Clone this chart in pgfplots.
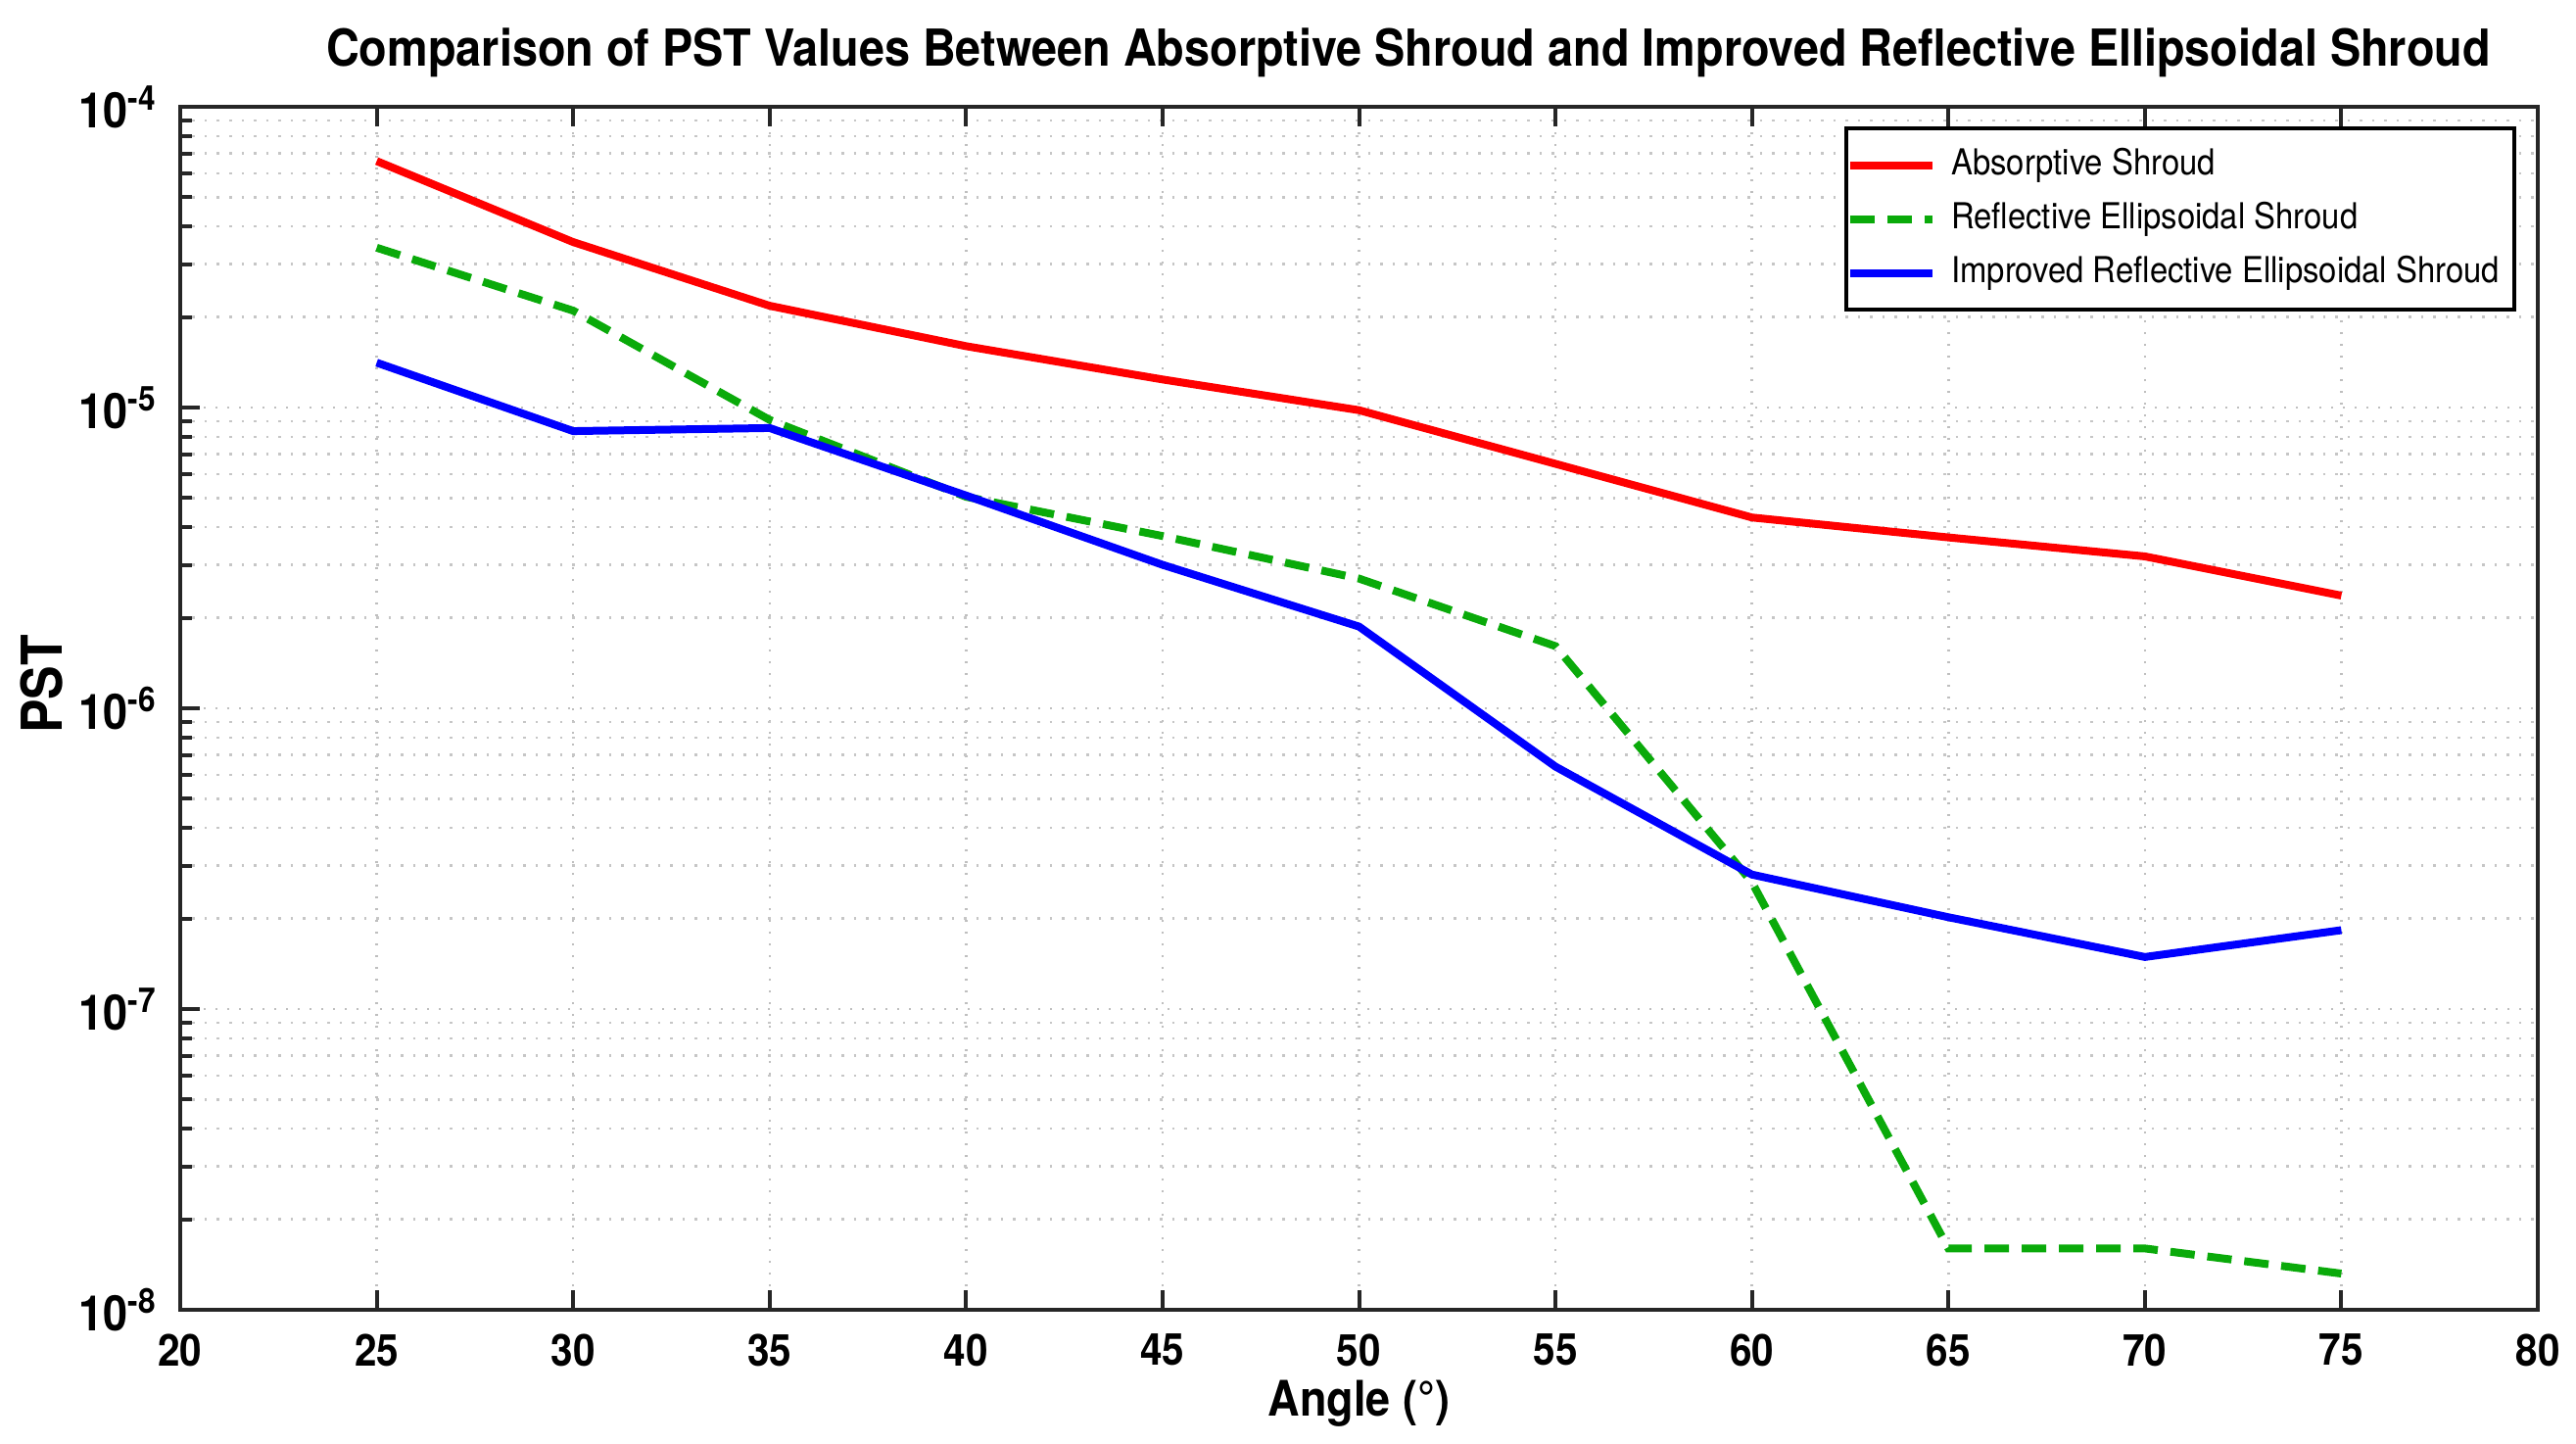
\documentclass[border=0pt]{standalone}
\usepackage{fontspec}
\setmainfont{TeX Gyre Heros}[FakeStretch=0.9]
\usepackage{pgfplots}
\pgfplotsset{compat=1.18}
\definecolor{cred}{RGB}{255,0,0}
\definecolor{cgreen}{RGB}{10,170,10}
\definecolor{cblue}{RGB}{0,0,255}
\newcommand{\pw}[1]{\textbf{10}\textsuperscript{\textbf{#1}}}
\begin{document}
\begin{tikzpicture}
\begin{axis}[
  scale only axis, width=481.4pt, height=245.6pt,
  ymode=log, xmin=20, xmax=80, ymin=1e-8, ymax=1e-4,
  xtick={20,25,...,80},
  ytick={1e-8,1e-7,1e-6,1e-5,1e-4},
  yticklabels={\pw{-8},\pw{-7},\pw{-6},\pw{-5},\pw{-4}},
  minor ytick={2e-8,3e-8,4e-8,5e-8,6e-8,7e-8,8e-8,9e-8,
               2e-7,3e-7,4e-7,5e-7,6e-7,7e-7,8e-7,9e-7,
               2e-6,3e-6,4e-6,5e-6,6e-6,7e-6,8e-6,9e-6,
               2e-5,3e-5,4e-5,5e-5,6e-5,7e-5,8e-5,9e-5},
  xtick pos=both, ytick pos=left,
  tick align=inside,
  major tick length=4pt, minor tick length=2.4pt,
  xmajorgrids, ymajorgrids, yminorgrids,
  grid style={dotted, gray!50, line width=0.5pt},
  minor grid style={dotted, gray!45, line width=0.5pt},
  axis line style={line width=0.8pt, black!85},
  every tick/.style={black!85, line width=0.8pt},
  /pgf/number format/assume math mode=true,
  xticklabel style={font=\bfseries\fontsize{9}{10}\selectfont, yshift=-1.4pt},
  yticklabel style={font=\fontsize{10}{11}\selectfont, xshift=-1pt},
  title={Comparison of PST Values Between Absorptive Shroud and Improved Reflective Ellipsoidal Shroud},
  title style={at={(0.521,1)}, anchor=base, yshift=2.4pt, inner sep=0pt, font=\bfseries\fontsize{10.4}{12}\selectfont},
  xlabel={Angle (°)},
  xlabel style={at={(axis description cs:0.5,0)}, anchor=base, yshift=-21.6pt, inner sep=0pt, font=\bfseries\fontsize{10}{12}\selectfont},
  ylabel={PST},
  ylabel style={at={(axis description cs:-0.0586,0.52)}, anchor=center, inner sep=0pt, font=\bfseries\fontsize{11.5}{13}\selectfont},
  legend style={at={(1,1)}, anchor=north east, xshift=-4.4pt, yshift=-4pt,
    draw=black, line width=0.8pt, inner xsep=0pt, inner ysep=2pt,
    font=\fontsize{7.3}{9}\selectfont,
    nodes={inner xsep=3pt, inner ysep=2pt, text height=5.5pt, text depth=1.5pt},
    cells={anchor=west}},
  legend image code/.code={\draw[#1] (0pt,0pt) -- (16.8pt,0pt);},
]
\addplot[cred, line width=1.6pt] coordinates {
  (25,6.6e-5) (30,3.55e-5) (35,2.18e-5) (40,1.6e-5) (45,1.24e-5) (50,9.8e-6)
  (55,6.5e-6) (60,4.31e-6) (65,3.7e-6) (70,3.2e-6) (75,2.37e-6)};
\addlegendentry{Absorptive Shroud}
\addplot[cgreen, line width=1.6pt, dash pattern=on 5pt off 2.6pt] coordinates {
  (25,3.4e-5) (30,2.1e-5) (35,9.1e-6) (40,5.05e-6) (45,3.74e-6) (50,2.7e-6)
  (55,1.61e-6) (60,2.64e-7) (65,1.6e-8) (70,1.6e-8) (75,1.32e-8)};
\addlegendentry{Reflective Ellipsoidal Shroud}
\addplot[cblue, line width=1.6pt] coordinates {
  (25,1.41e-5) (30,8.35e-6) (35,8.55e-6) (40,5.1e-6) (45,3.0e-6) (50,1.87e-6)
  (55,6.4e-7) (60,2.8e-7) (65,2.02e-7) (70,1.49e-7) (75,1.83e-7)};
\addlegendentry{Improved Reflective Ellipsoidal Shroud}
\end{axis}
\pgfresetboundingbox
\path (-36.8pt,-27.2pt) rectangle (489.2pt,267.4pt);
\end{tikzpicture}
\end{document}
